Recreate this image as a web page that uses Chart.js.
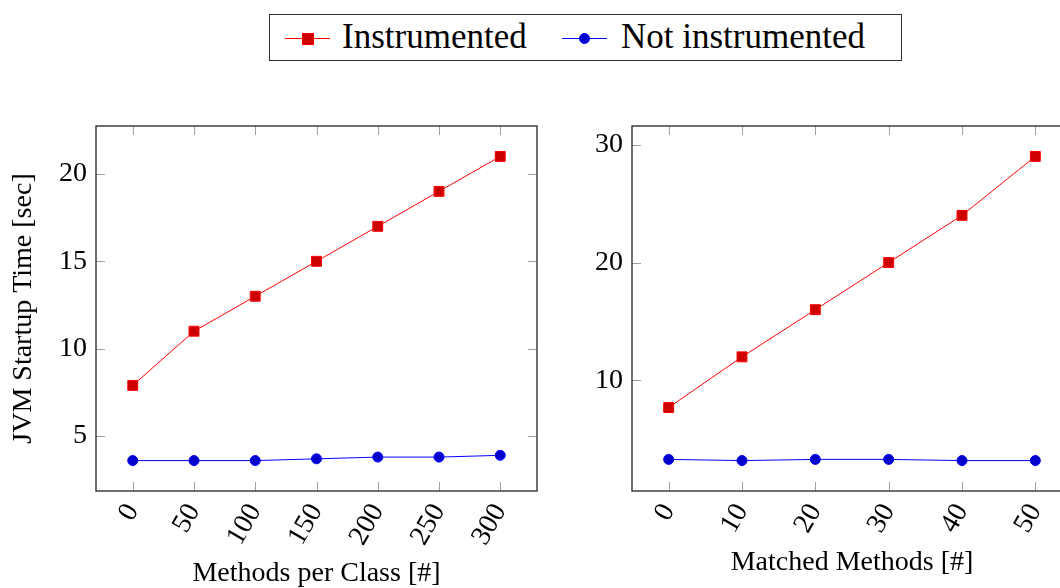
<!DOCTYPE html>
<html>
<head>
<meta charset="utf-8">
<script src="https://cdn.jsdelivr.net/npm/chart.js@4.4.0/dist/chart.umd.min.js"></script>
<style>
  html, body { margin: 0; padding: 0; background: #fff; overflow: hidden; width: 1060px; height: 588px; }
  body { position: relative; font-family: "Liberation Serif", serif; }
  canvas { position: absolute; top: 0; }
  #left { left: 0; }
  #right { left: 560px; }
  #legend { position: absolute; left: 269px; top: 14px; width: 631px; height: 45px; border: 1px solid #333; z-index: 2; background: #fff; }
  #legend .line { position: absolute; top: 23px; width: 45px; height: 1px; }
  #legend .mark { position: absolute; box-sizing: border-box; }
  #legend .txt { position: absolute; top: 4px; font-size: 35px; line-height: 35px; color: #000; white-space: nowrap; }
</style>
</head>
<body>
<div id="legend">
  <div class="line" style="left:15px;background:#ff0000"></div>
  <div class="mark" style="left:32px;top:18px;width:12px;height:12px;background:#cc0000;border:1px solid #ff0000"></div>
  <div class="txt" id="lab0" style="left:72px"></div>
  <div class="line" style="left:292px;background:#0000ff"></div>
  <div class="mark" style="left:309px;top:18px;width:11px;height:11px;border-radius:50%;background:#0000cc;border:1px solid #0000ff"></div>
  <div class="txt" id="lab1" style="left:351px"></div>
</div>
<canvas id="left" width="560" height="588"></canvas>
<canvas id="right" width="560" height="588"></canvas>
<script>
// left panel: methods per class
const methodsPerClass = [0, 50, 100, 150, 200, 250, 300];
const instrumentedA = [7.9, 11, 13, 15, 17, 19, 21];
const plainA = [3.6, 3.6, 3.6, 3.7, 3.8, 3.8, 3.9];
const yTicksA = [5, 10, 15, 20];

// right panel: matched methods
const matchedMethods = [0, 10, 20, 30, 40, 50];
const instrumentedB = [7.7, 12, 16, 20, 24, 29];
const plainB = [3.3, 3.2, 3.3, 3.3, 3.2, 3.2];
const yTicksB = [10, 20, 30];

const seriesNames = ['Instrumented', 'Not instrumented'];

document.getElementById('lab0').textContent = seriesNames[0];
document.getElementById('lab1').textContent = seriesNames[1];

const FONT = '"Liberation Serif", serif';

// pgfplots-style 10% enlargement of the data range
function enlarge(vals) {
  const lo = Math.min(...vals), hi = Math.max(...vals);
  const pad = (hi - lo) * 0.1;
  return [lo - pad, hi + pad];
}

// full box + inward tick marks on all four sides
const framePlugin = {
  id: 'frame',
  beforeDatasetsDraw(chart) {
    const { ctx, chartArea: a, scales: { x, y } } = chart;
    ctx.save();
    ctx.strokeStyle = '#a0a0a0';
    ctx.lineWidth = 1;
    ctx.beginPath();
    x.ticks.forEach(t => {
      const px = Math.round(x.getPixelForValue(t.value)) + 0.5;
      ctx.moveTo(px, a.bottom); ctx.lineTo(px, a.bottom - 9);
      ctx.moveTo(px, a.top); ctx.lineTo(px, a.top + 9);
    });
    y.ticks.forEach(t => {
      const py = Math.round(y.getPixelForValue(t.value)) + 0.5;
      ctx.moveTo(a.left, py); ctx.lineTo(a.left + 9, py);
      ctx.moveTo(a.right, py); ctx.lineTo(a.right - 9, py);
    });
    ctx.stroke();
    ctx.strokeStyle = '#333';
    ctx.lineWidth = 1.4;
    ctx.strokeRect(a.left, a.top, a.right - a.left, a.bottom - a.top);
    ctx.restore();
  }
};

function makeChart(id, xs, ins, plain, yTicks, opt) {
  const xr = enlarge(xs);
  const yr = enlarge(ins.concat(plain));
  return new Chart(document.getElementById(id), {
    type: 'line',
    data: {
      datasets: [{
        label: seriesNames[0],
        data: xs.map((v, i) => ({ x: v, y: ins[i] })),
        borderColor: '#ff0000',
        backgroundColor: '#cc0000',
        pointBackgroundColor: '#cc0000',
        pointBorderColor: '#ff0000',
        pointStyle: 'rect',
        pointRadius: 7,
        pointBorderWidth: 1,
        borderWidth: 1
      }, {
        label: seriesNames[1],
        data: xs.map((v, i) => ({ x: v, y: plain[i] })),
        borderColor: '#0000ff',
        backgroundColor: '#0000cc',
        pointBackgroundColor: '#0000cc',
        pointBorderColor: '#0000ff',
        pointStyle: 'circle',
        pointRadius: 5,
        pointBorderWidth: 1,
        borderWidth: 1
      }]
    },
    options: {
      responsive: false,
      animation: false,
      events: [],
      layout: { padding: { top: 126, right: opt.right, left: 0, bottom: 0 } },
      plugins: { legend: { display: false }, tooltip: { enabled: false } },
      scales: {
        x: {
          type: 'linear',
          min: xr[0],
          max: xr[1],
          grid: { display: false, drawTicks: false },
          border: { display: false },
          afterBuildTicks: s => { s.ticks = xs.map(v => ({ value: v })); },
          afterFit: s => { s.height = 97; },
          ticks: {
            color: '#000', font: { family: FONT, size: 28 },
            minRotation: 60, maxRotation: 60, autoSkip: false, padding: 7,
            callback: v => String(v)
          },
          title: {
            display: true, text: opt.xTitle, color: '#000',
            font: { family: FONT, size: 28 },
            padding: { top: 0, bottom: opt.xTitlePad }
          }
        },
        y: {
          min: yr[0],
          max: yr[1],
          grid: { display: false, drawTicks: false },
          border: { display: false },
          afterBuildTicks: s => { s.ticks = yTicks.map(v => ({ value: v })); },
          afterFit: s => { s.width = opt.yWidth; },
          ticks: {
            color: '#000', font: { family: FONT, size: 28 }, padding: 9,
            callback: v => String(v)
          },
          title: {
            display: !!opt.yTitle, text: opt.yTitle || '', color: '#000',
            font: { family: FONT, size: 28 },
            padding: { top: 7, bottom: 0 }
          }
        }
      }
    },
    plugins: [framePlugin]
  });
}

makeChart('left', methodsPerClass, instrumentedA, plainA, yTicksA, {
  right: 23, yWidth: 96, xTitle: 'Methods per Class [#]', xTitlePad: -2,
  yTitle: 'JVM Startup Time [sec]'
});
makeChart('right', matchedMethods, instrumentedB, plainB, yTicksB, {
  right: 48, yWidth: 72, xTitle: 'Matched Methods [#]', xTitlePad: 9
});
</script>
</body>
</html>
